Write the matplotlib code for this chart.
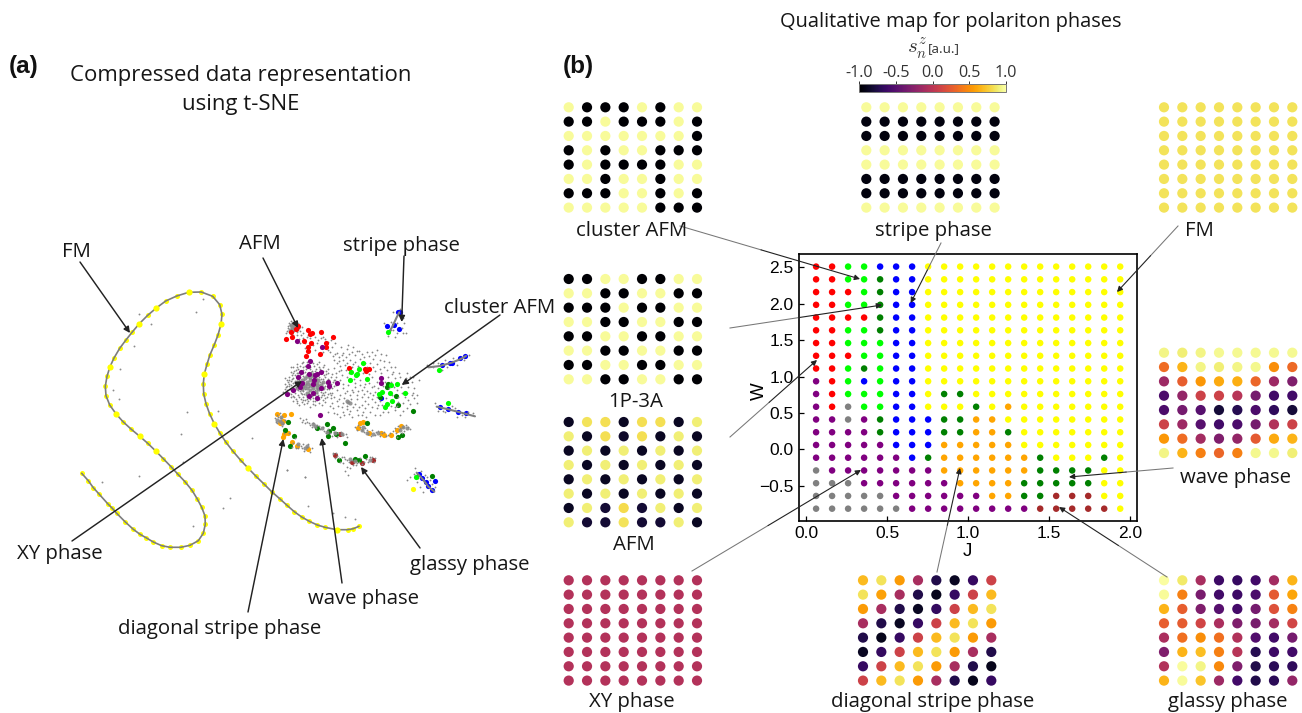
import numpy as np
import matplotlib
matplotlib.use('Agg')
import matplotlib.pyplot as plt
from matplotlib.cm import ScalarMappable
from matplotlib.colors import Normalize

plt.rcParams['font.family'] = ['Open Sans', 'DejaVu Sans']
plt.rcParams['mathtext.fontset'] = 'cm'

W_PX, H_PX = 1302, 713
TXT = '#161616'

# ------------------------- phase diagram (panel b) -------------------------
phase_rows = [
    'RRLLBBBYYYYYYYYYYYYY',
    'RRLLGBBYYYYYYYYYYYYY',
    'RRRLGBBYYYYYYYYYYYYY',
    'RRLLGBBYYYYYYYYYYYYY',
    'RRRRGBBYYYYYYYYYYYYY',
    'RRLLGBBYYYYYYYYYYYYY',
    'RRLLLBBYYYYYYYYYYYYY',
    'RRRLLBBYYYYYYYYYYYYY',
    'RRLGLBBYYYYYYYYYYYYY',
    'PRLBLBBYYYYYYYYYYYYY',
    'PRLLLBBYGGYYYYYYYYYY',
    'PRALLBBYYYGYOYYYYYYY',
    'PPAPGBBBGGOOYYYYYYYY',
    'PPPPGBBBGGOOGYYYYYYY',
    'PPPPPBBBOOOOOYYYYYYY',
    'PPPPPPBGOOOOOOGYYYGY',
    'APPPPPPPOOOOOOGGGGYY',
    'AAAPPPPPPOOOOGGGGGYY',
    'AAAAAPPPPPPOOGGNNNYY',
    'AAAAAAPPPPPPPPNNNNNY',
]
phase_colors = {'R': '#ff0000', 'L': '#00ff00', 'B': '#0000ff', 'G': '#008000',
                'Y': '#ffff00', 'P': '#800080', 'A': '#808080', 'O': '#ffa500',
                'N': '#a52a2a'}
J_first, J_last, W_first, W_last = 0.0625, 1.9375, 2.51, -0.815
map_xticks = [0.0, 0.5, 1.0, 1.5, 2.0]
map_yticks = [-0.5, 0.0, 0.5, 1.0, 1.5, 2.0, 2.5]

# ------------------------- 8x8 spin lattices -------------------------------
P_, B_, D_ = 0.97, -1.0, -0.88
S_ = -0.95
cluster_afm = [[P_, B_, B_, B_, P_, B_, P_, P_],
               [B_, B_, P_, B_, B_, B_, P_, B_],
               [P_, P_, P_, P_, P_, P_, P_, B_],
               [B_, P_, B_, P_, P_, B_, B_, B_],
               [B_, P_, B_, B_, B_, B_, P_, P_],
               [P_, P_, B_, P_, P_, B_, P_, P_],
               [B_, B_, B_, P_, P_, B_, P_, B_],
               [P_, P_, P_, P_, P_, B_, B_, B_]]
p1a3 = [[B_, B_, P_, P_, B_, B_, P_, P_],
        [P_, P_, B_, B_, P_, P_, B_, B_],
        [B_, B_, B_, P_, B_, B_, P_, P_],
        [P_, P_, B_, B_, P_, P_, B_, B_],
        [B_, B_, P_, P_, B_, B_, P_, P_],
        [P_, P_, B_, B_, P_, P_, B_, B_],
        [B_, B_, P_, P_, B_, B_, P_, P_],
        [P_, P_, B_, B_, P_, P_, B_, B_]]
afm = [[D_, .85, .83, D_, .83, .83, D_, .90],
       [.90, D_, .83, -.85, .83, D_, .90, D_],
       [D_, .90, D_, .90, D_, .90, D_, .90],
       [.90, D_, .90, D_, .90, D_, .90, D_],
       [D_, .90, D_, .90, D_, .90, D_, .90],
       [.90, D_, .90, D_, .90, D_, .90, D_],
       [D_, .90, -.82, .82, -.82, .90, D_, .90],
       [.90, -.82, -.82, .85, -.82, -.82, .90, D_]]
stripe = [[P_] * 8, [S_] * 8, [S_] * 8, [P_] * 8, [P_] * 8, [S_] * 8, [S_] * 8, [P_] * 8]
fm = [[.85] * 8 for _ in range(8)]
xy = [[-.04] * 8 for _ in range(8)]
wave = [[.93, .90, .93, .96, .96, .96, .96, .96],
        [.35, .66, .93, .90, .93, .95, .50, .33],
        [-.15, .28, .54, .62, .64, .32, -.15, -.30],
        [-.55, -.20, .10, .10, -.02, -.35, -.60, -.60],
        [-.55, -.35, -.50, -.80, -.72, -.55, -.68, -.80],
        [.10, -.15, -.50, -.60, -.55, -.35, -.05, .10],
        [.54, .35, -.12, -.30, -.20, .25, .62, .66],
        [.93, .66, .44, .32, .44, .95, .95, .90]]
diagonal = [[.68, .85, .56, -.10, -.75, -.88, -.65, .10],
            [.85, .58, -.10, -.75, -.90, -.65, .10, .68],
            [.56, -.10, -.75, -.88, -.66, .10, .68, .85],
            [-.10, -.75, -.88, -.65, .10, .68, .85, .56],
            [-.75, -.90, -.65, .10, .68, .85, .56, -.10],
            [-.88, -.66, .10, .68, .85, .56, -.10, -.75],
            [-.65, .10, .68, .85, .56, -.10, -.75, -.90],
            [.10, .68, .85, .56, -.10, -.75, -.90, -.65]]
glassy = [[.99, .88, -.10, -.62, -.65, -.60, -.12, .66],
          [.97, .44, -.33, -.60, -.62, -.55, .25, .60],
          [.66, .28, -.30, -.50, -.58, -.35, .20, .45],
          [.28, .26, .12, -.08, -.30, -.33, -.12, .12],
          [-.08, .36, .50, .36, -.05, -.52, -.60, -.35],
          [-.30, .66, .70, .44, -.02, -.72, -.62, -.60],
          [-.05, .98, .93, .48, -.30, -.75, -.70, -.68],
          [.66, .97, .72, -.15, -.60, -.75, -.70, -.20]]
lattices = [(cluster_afm, 568.7, 107.3), (p1a3, 568.7, 279.0), (afm, 568.7, 422.0),
            (stripe, 866.3, 107.3), (fm, 1164.0, 107.3), (wave, 1164.0, 352.7),
            (xy, 568.7, 580.3), (diagonal, 863.0, 580.3), (glassy, 1164.0, 580.3)]

# ------------------------- t-SNE curve (panel a), image units ---------------
curve = [(81.7, 473.3), (88.3, 480.7), (93.3, 487.7), (99.3, 494.3), (107.7, 503.7), (112.3, 508.3),
         (116.7, 513.3), (125, 521.7), (133.3, 529.3), (140, 534.3), (146, 537.7), (153.3, 542),
         (161.7, 545.7), (170, 547.3), (180.7, 547.3), (190, 545.3), (198.3, 540.7), (203.3, 533.3),
         (205.3, 524.3), (205, 516), (201.7, 507.3), (197.3, 499), (192, 490.3), (185, 481.7),
         (177.7, 474), (171, 466.7), (163.3, 458.7), (156, 451.3), (147.7, 443.3), (139.7, 436.3),
         (131.3, 429.3), (123, 421.7), (116, 413.8), (109.7, 405), (106, 395.7), (105.3, 386.3),
         (107, 376.3), (110, 366.7), (114, 358), (119.7, 348.3), (125.7, 340.3), (132.3, 332),
         (139.3, 323.7), (147.7, 315.3), (156.3, 308), (165.7, 301), (176.7, 296), (188.7, 292.3),
         (201.3, 292), (212.7, 296.3), (219.7, 304.7), (222, 314.3), (221, 324.3), (218, 335),
         (214.3, 344.7), (210, 354.7), (207, 364.3), (204.3, 374), (203.3, 383.7), (203.7, 393.7),
         (206, 403.7), (209.5, 413.5), (214.3, 423.7), (220, 433.3), (226, 442.3), (233, 451.3),
         (240.7, 460.3), (248.3, 468.3), (256, 476.3), (264, 484), (271.7, 491.7), (279.7, 498.7),
         (287, 505.3), (294.3, 511.7), (301.7, 517), (309.3, 521.3), (317.3, 525), (325, 527.3),
         (336.7, 529.7), (347.7, 529.7), (353.3, 528.7), (359, 526.3)]
curve_big = [(110, 366.7), (139.3, 323.7), (156.3, 308), (188.7, 292.3), (221, 324.3), (204.3, 374),
             (116, 413.8), (139.7, 436.3), (156, 451.3), (214.3, 423.7), (248.3, 468.3),
             (336.7, 529.7)]
stray_gray = [(138.7, 314.3), (150.7, 324), (133.7, 345.7), (120, 369), (113.3, 390), (119.3, 398.7),
              (196.3, 312), (202.7, 299.3), (187.3, 412), (180.7, 434.3), (218.3, 410.7), (252.3, 437.7),
              (139, 475.7), (102, 482), (222.7, 508), (230, 497.7), (192.7, 526), (286.7, 470),
              (305, 477.3), (308.3, 506), (345, 517.3), (355, 518.7), (333.3, 513.3), (182.7, 461.7)]

# ------------------------- clusters, in units of 1/3 image px from (260,280) -
red_pts = [(113, 138), (143, 150), (183, 156), (93, 155), (108, 148), (150, 163), (157, 160), (77, 177),
           (97, 172), (131, 183), (153, 188), (219, 171), (143, 200), (197, 190), (197, 202), (143, 213),
           (137, 228), (180, 223), (266, 263), (315, 267), (327, 268), (317, 274)]
purple_pts = [(111, 182), (185, 200), (150, 242), (143, 258), (123, 276), (115, 290), (146, 283),
              (165, 286), (183, 275), (170, 283), (162, 300), (158, 311), (204, 306), (207, 319),
              (230, 310), (125, 308), (100, 330), (120, 322), (82, 341), (146, 348), (160, 338),
              (170, 355), (183, 323), (180, 405), (362, 295), (362, 308)]
lime_pts = [(308, 249), (297, 267), (274, 276), (292, 282), (288, 286), (270, 301), (320, 298), (393, 316),
            (410, 313), (367, 335), (358, 342), (390, 338), (435, 340), (397, 364), (380, 372),
            (374, 381), (536, 270), (565, 370), (383, 155), (467, 591)]
green_pts = [(385, 311), (380, 322), (409, 347), (414, 374), (360, 352), (459, 394), (84, 425), (75, 450),
             (101, 468), (91, 497), (171, 444), (202, 433), (219, 445), (207, 452), (205, 467), (228, 463),
             (255, 490), (321, 430), (414, 470), (427, 465), (285, 537), (238, 541), (314, 528),
             (298, 540), (515, 589)]
blue_pts = [(415, 96), (420, 97), (382, 138), (401, 135), (418, 148), (363, 354), (545, 256), (570, 248),
            (575, 248), (600, 233), (614, 229), (539, 381), (563, 387), (595, 395), (619, 400), (478, 582),
            (487, 593), (524, 604), (498, 605), (503, 617), (516, 630)]
orange_pts = [(50, 403), (73, 405), (92, 402), (60, 428), (68, 424), (72, 463), (68, 470), (85, 460),
              (96, 485), (112, 497), (143, 508), (308, 426), (294, 445), (327, 458), (364, 458), (372, 464),
              (393, 465), (411, 450), (422, 437), (300, 430)]
brown_pts = [(225, 525), (275, 546), (307, 548), (338, 540), (240, 462)]
yellow_pts = [(459, 626)]

streaks = [[(385, 160), (397, 140), (410, 112), (418, 97)],
           [(505, 262), (540, 258), (575, 248), (600, 238), (618, 228)],
           [(530, 380), (565, 388), (600, 397), (645, 409)],
           [(470, 578), (490, 600), (505, 620), (523, 635)]]

gray_core = [(150, 315), (140, 305), (160, 305), (130, 315), (170, 315), (140, 325), (160, 325), (150, 300),
             (150, 330), (125, 300), (175, 300), (125, 328), (175, 328), (135, 295), (165, 295), (118, 315),
             (182, 315), (140, 338), (160, 338), (150, 290), (145, 312), (155, 318), (135, 318), (165, 312),
             (128, 308), (172, 308), (128, 322), (172, 322), (110, 305), (190, 305), (112, 325), (188, 325),
             (145, 345), (155, 285), (142, 288), (168, 335),
             (100, 135), (95, 142), (106, 140), (90, 150), (110, 148), (100, 150), (105, 128), (92, 135),
             (265, 365), (270, 368), (260, 362),
             (60, 422), (52, 420), (65, 430), (245, 462), (320, 458), (135, 505), (113, 493), (140, 498),
             (285, 543), (330, 540), (310, 442), (305, 450), (440, 445), (420, 450), (430, 440), (158, 432),
             (185, 445), (200, 455), (165, 437), (225, 458), (64, 412), (340, 462), (355, 458), (270, 538)]
gray_dots = [
    # XY blob
    (78, 320), (84, 305), (88, 290), (92, 275), (100, 262), (112, 252), (125, 250), (140, 245), (158, 250),
    (172, 253), (188, 262), (198, 272), (212, 290), (218, 305), (215, 325), (210, 338), (202, 350), (190, 360),
    (178, 368), (160, 372), (142, 370), (125, 366), (108, 358), (98, 348), (88, 338), (74, 312), (82, 330),
    (96, 298), (104, 285), (115, 268), (130, 262), (150, 260), (168, 266), (182, 278), (195, 292), (205, 315),
    (196, 335), (185, 345), (170, 352), (150, 358), (130, 352), (115, 345), (102, 330), (92, 316), (100, 310),
    (110, 295), (120, 285), (135, 275), (155, 272), (172, 285), (188, 298), (195, 318), (182, 336), (165, 345),
    (140, 350), (122, 338), (108, 322), (104, 302), (115, 278), (128, 288), (145, 280), (160, 280), (178, 292),
    (186, 308), (188, 325), (172, 338), (155, 347), (132, 342), (115, 330), (110, 312), (118, 300), (128, 270),
    (205, 280), (222, 318), (228, 292), (92, 262), (75, 295), (70, 335), (118, 375), (150, 382), (186, 375),
    (212, 355), (103, 272), (94, 330), (86, 318), (125, 342), (96, 285), (208, 300), (200, 302), (176, 358),
    (145, 362), (135, 258), (162, 258), (180, 268), (120, 258), (108, 270), (192, 345), (200, 326), (165, 362),
    (81, 300), (86, 312), (90, 326), (94, 342), (102, 352), (112, 362), (122, 356), (135, 360), (150, 350),
    (158, 364), (170, 360), (182, 352), (194, 354), (204, 342), (208, 328), (212, 312), (204, 296), (198, 282),
    (190, 272), (176, 260), (164, 272), (150, 268), (138, 266), (124, 276), (110, 280), (100, 294), (92, 304),
    (98, 322), (106, 340), (118, 352), (128, 360), (142, 356), (160, 354), (174, 346), (188, 338), (198, 310),
    (192, 284), (178, 276), (168, 278), (152, 276), (140, 282), (130, 280), (120, 292), (112, 302), (106, 316),
    (116, 322), (120, 334), (130, 334), (138, 344), (148, 340), (164, 330), (178, 330), (184, 318), (180, 306),
    (182, 296), (170, 296), (160, 292), (146, 294), (132, 300), (122, 310), (134, 326), (146, 332), (158, 332),
    (170, 326), (176, 316), (166, 302), (152, 298), (138, 312), (148, 322), (158, 312), (88, 300), (82, 318),
    (76, 326), (84, 342), (92, 352), (100, 362), (110, 370), (132, 372), (166, 376), (196, 366), (214, 344),
    (222, 300), (216, 282), (204, 268), (192, 254), (178, 246), (150, 240), (130, 246), (110, 260), (100, 278),
    # AFM blob and neighbours
    (90, 135), (100, 132), (105, 132), (110, 130), (115, 135), (85, 145), (92, 148), (98, 145), (104, 143),
    (118, 145), (88, 155), (96, 158), (103, 152), (110, 155), (120, 152), (125, 140), (100, 165), (112, 165),
    (130, 160), (140, 170), (128, 175), (150, 175), (165, 172), (175, 180), (190, 170), (205, 185), (160, 195),
    (120, 190), (135, 205), (212, 180), (225, 190), (100, 125), (108, 122), (95, 128), (84, 138), (78, 160),
    (86, 130), (93, 122), (112, 138), (115, 128), (82, 152), (122, 165), (145, 165), (155, 185), (170, 190),
    (182, 175), (195, 178), (118, 178), (135, 190), (148, 195), (165, 210), (190, 215), (205, 210), (215, 200),
    # central sparse region
    (210, 215), (225, 222), (238, 230), (250, 218), (262, 208), (275, 215), (290, 212), (305, 222), (322, 216),
    (335, 215), (352, 210), (265, 195), (242, 200), (280, 200), (300, 236), (340, 236), (360, 240), (378, 225),
    (392, 260), (372, 262), (350, 252), (330, 250), (250, 240), (232, 250), (222, 265), (236, 272), (255, 255),
    (270, 240), (285, 245), (245, 285), (262, 290), (282, 298), (300, 300), (315, 312), (335, 290), (345, 272),
    (350, 305), (335, 320), (322, 332), (305, 330), (285, 322), (265, 315), (250, 312), (232, 330), (222, 350),
    (240, 345), (255, 340), (270, 345), (290, 345), (305, 352), (325, 350), (340, 345), (345, 365), (325, 372),
    (305, 375), (285, 372), (265, 365), (250, 368), (235, 378), (220, 385), (205, 395), (230, 402), (250, 395),
    (270, 392), (290, 390), (310, 395), (330, 395), (350, 385), (370, 395), (385, 395), (405, 390), (420, 405),
    (440, 385), (470, 370), (462, 355), (445, 360), (430, 370), (415, 350), (395, 345), (378, 355), (370, 318),
    (405, 295), (420, 290), (432, 305), (445, 320), (462, 325), (478, 300), (450, 290), (400, 275), (385, 290),
    (362, 280), (345, 335), (355, 325), (410, 330), (422, 322), (440, 338), (455, 345), (415, 365), (405, 380),
    (365, 375), (240, 300), (295, 275), (315, 250), (275, 330), (260, 378), (295, 405), (318, 410), (275, 412),
    (345, 405), (252, 405), (215, 368), (228, 315), (276, 262), (258, 270), (240, 258), (310, 280), (328, 282),
    (218, 228), (232, 218), (245, 226), (258, 232), (268, 222), (285, 225), (298, 214), (312, 232), (328, 228),
    (345, 224), (362, 222), (222, 240), (238, 244), (262, 248), (278, 252), (295, 258), (322, 262), (338, 262),
    (360, 266), (380, 270), (395, 282), (228, 280), (242, 270), (268, 278), (285, 310), (300, 315), (312, 322),
    (328, 308), (342, 318), (248, 325), (260, 332), (280, 335), (295, 332), (312, 342), (330, 340), (238, 358),
    (252, 355), (272, 358), (292, 358), (315, 362), (335, 358), (352, 350), (360, 362), (245, 382), (262, 388),
    (278, 380), (298, 382), (315, 385), (335, 382), (355, 375), (375, 380), (392, 378), (412, 378), (430, 392),
    (450, 372), (458, 338), (472, 345), (435, 352), (425, 340), (402, 322), (388, 325), (375, 305), (392, 305),
    (415, 308), (438, 295), (455, 305), (440, 280), (418, 278), (405, 262), (388, 245), (372, 242), (460, 290),
    (225, 300), (232, 362), (215, 340), (210, 378), (222, 400), (240, 410), (268, 402), (305, 405), (360, 405),
    # wave band (left)
    (120, 415), (130, 420), (142, 425), (150, 435), (160, 428), (172, 436), (180, 448), (190, 440), (198, 458),
    (210, 460), (222, 455), (235, 458), (250, 465), (262, 470), (125, 425), (135, 428), (148, 428), (155, 440),
    (168, 445), (178, 438), (192, 452), (205, 448), (215, 468), (230, 470), (242, 455), (258, 462), (138, 418),
    # right band
    (285, 442), (295, 435), (305, 450), (315, 445), (325, 462), (335, 450), (345, 465), (355, 452), (365, 460),
    (378, 468), (390, 458), (405, 445), (415, 438), (428, 440), (445, 440), (450, 448), (432, 452), (408, 460),
    (290, 450), (300, 440), (312, 455), (322, 450), (332, 468), (348, 455), (360, 468), (372, 455), (385, 465),
    (398, 452), (420, 445), (438, 436), (425, 458), (412, 470),
    # orange clusters
    (45, 415), (52, 430), (65, 438), (75, 420), (50, 405), (60, 400), (72, 460), (100, 490), (108, 503),
    (122, 497), (130, 492), (140, 500), (150, 515), (155, 505), (95, 500), (88, 460), (105, 475), (48, 425),
    (55, 412), (70, 432), (62, 415), (115, 505), (125, 505), (132, 512), (145, 492),
    # glassy band
    (220, 518), (232, 528), (245, 530), (255, 538), (268, 545), (278, 555), (292, 548), (305, 552), (318, 538),
    (330, 532), (345, 535), (250, 548), (262, 560), (240, 545), (225, 533), (300, 535), (218, 522), (255, 572),
    (228, 520), (238, 535), (252, 530), (262, 540), (275, 540), (288, 555), (298, 545), (312, 545), (325, 545),
    (335, 530), (342, 545), (270, 565),
    # near streaks
    (372, 130), (392, 150), (410, 160), (430, 158), (438, 160), (405, 172), (385, 168), (430, 115), (432, 130),
    (400, 95), (420, 88), (500, 255), (520, 262), (555, 240), (545, 270), (590, 255), (612, 240), (628, 225),
    (526, 368), (535, 392), (555, 395), (575, 378), (590, 410), (615, 410), (640, 400), (465, 565), (450, 590),
    (440, 600), (495, 585), (510, 600), (525, 620), (480, 620), (470, 605), (490, 635), (135, 590), (80, 570),
    (265, 585), (392, 125), (412, 128), (400, 150), (425, 145), (520, 250), (535, 248), (560, 262), (580, 235),
    (548, 392), (585, 385), (605, 405), (625, 395), (482, 572), (500, 592), (515, 612), (462, 582), (475, 595),
]

# ------------------------- labels and arrows --------------------------------
a_labels = [('FM', 76, 250), ('AFM', 260, 242), ('stripe phase', 401, 244), ('cluster AFM', 500, 306),
            ('XY phase', 60, 552), ('diagonal stripe phase', 220, 627), ('wave phase', 363, 597),
            ('glassy phase', 470, 563)]
b_labels = [('cluster AFM', 632, 229), ('stripe phase', 933, 229), ('FM', 1199, 229), ('1P-3A', 636, 400),
            ('AFM', 634, 543), ('XY phase', 632, 700), ('diagonal stripe phase', 933, 700),
            ('glassy phase', 1228, 700), ('wave phase', 1236, 476)]
a_arrows = [((80, 262), (130, 333)), ((263, 258), (298, 328)), ((404, 256), (401.7, 322)),
            ((500, 315), (401.7, 385)), ((72, 541), (302, 381)), ((248, 612), (283.3, 439)),
            ((342, 583), (321.7, 438)), ((420, 548), (361, 467))]
b_arrows = [((680, 226), (860, 279)), ((730, 328), (882, 305)), ((730, 437), (817, 360)),
            ((692, 571), (861, 470)), ((941, 243), (910.7, 303)), ((1178, 226), (1117, 292)),
            ((1173, 468), (1069, 477)), ((937, 572), (960, 468)), ((1167, 577), (1059, 507))]
cbar_ticks = [-1.0, -0.5, 0.0, 0.5, 1.0]


def px_axes(left, top, right, bottom, **kw):
    return fig.add_axes([left / W_PX, 1 - bottom / H_PX, (right - left) / W_PX, (bottom - top) / H_PX], **kw)


def zx(pts):
    return [260 + p[0] / 3 for p in pts]


def zy(pts):
    return [280 + p[1] / 3 for p in pts]


fig = plt.figure(figsize=(W_PX / 100, H_PX / 100), dpi=100, facecolor='white')

# full-figure canvas in image units
base = fig.add_axes([0, 0, 1, 1])
base.set_xlim(0, W_PX)
base.set_ylim(H_PX, 0)
base.axis('off')

# panel (a)
cx, cy = [p[0] for p in curve], [p[1] for p in curve]
base.scatter(cx, cy, s=13, color='#ffff00', linewidths=0, zorder=2)
base.plot(cx, cy, color='#7d7d7d', lw=1.2, zorder=3, solid_capstyle='round')
base.scatter([p[0] for p in curve_big], [p[1] for p in curve_big], s=20, color='#ffff00', linewidths=0, zorder=4)
base.scatter([p[0] for p in stray_gray], [p[1] for p in stray_gray], s=1.8, color='#8a8a8a', linewidths=0, zorder=3)

for pts, col in [(blue_pts, '#0000ff'), (orange_pts, '#ffa500'), (brown_pts, '#a52a2a'),
                 (green_pts, '#008000'), (yellow_pts, '#ffff00')]:
    base.scatter(zx(pts), zy(pts), s=14, color=col, linewidths=0, zorder=3)
for st in streaks:
    base.plot(zx(st), zy(st), color='#808080', lw=1.5, zorder=4, solid_capstyle='round')
base.scatter(zx(gray_core), zy(gray_core), s=9, color='#8c8c8c', linewidths=0, zorder=4, alpha=0.9)
base.scatter(zx(gray_dots), zy(gray_dots), s=1.7, color='#868686', linewidths=0, zorder=4)
for pts, col in [(red_pts, '#ff0000'), (purple_pts, '#800080'), (lime_pts, '#00ff00')]:
    base.scatter(zx(pts), zy(pts), s=14, color=col, linewidths=0, zorder=5)

# panel (b) phase map
ax = px_axes(799.3, 254, 1137, 520.7)
J_vals = np.linspace(J_first, J_last, len(phase_rows[0]))
W_vals = np.linspace(W_first, W_last, len(phase_rows))
for w, row in zip(W_vals, phase_rows):
    ax.scatter(J_vals, [w] * len(row), c=[phase_colors[c] for c in row], s=22, linewidths=0, zorder=3)
ax.set_xlim(-0.041, 2.041)
ax.set_ylim(-0.98, 2.683)
ax.set_xticks(map_xticks)
ax.set_yticks(map_yticks)
ax.tick_params(direction='in', length=3.5, width=0.9, labelsize=12.5, pad=4, colors='black')
for lab in ax.get_xticklabels() + ax.get_yticklabels():
    lab.set_fontfamily('Liberation Sans')
for sp in ax.spines.values():
    sp.set_linewidth(1.2)

# lattices
norm = Normalize(-1, 1)
for grid, x0, y0 in lattices:
    lat = px_axes(x0, y0, x0 + 7 * 18.33, y0 + 7 * 14.33)
    arr = np.array(grid)
    col_i, row_i = np.meshgrid(np.arange(8), np.arange(8))
    lat.scatter(col_i.ravel(), row_i.ravel(), c=arr.ravel(), cmap='inferno', norm=norm, s=54,
                linewidths=0, clip_on=False)
    lat.set_xlim(0, 7)
    lat.set_ylim(7, 0)
    lat.axis('off')

# colorbar
cax = px_axes(859.3, 84, 1005.7, 92.3)
cb = fig.colorbar(ScalarMappable(norm=norm, cmap='inferno'), cax=cax, orientation='horizontal')
cb.set_ticks(cbar_ticks, labels=['-1.0', '-0.5', '0.0', '0.5', '1.0'])
cax.xaxis.set_ticks_position('top')
cax.tick_params(length=2.5, width=0.7, labelsize=11.6, pad=0, colors='#333333')
cb.outline.set_linewidth(0.7)
cb.outline.set_edgecolor('#777777')

# overlay: annotations and text
top = fig.add_axes([0, 0, 1, 1], zorder=10)
top.set_xlim(0, W_PX)
top.set_ylim(H_PX, 0)
top.axis('off')
top.patch.set_alpha(0)

for start, end in a_arrows:
    top.annotate('', xy=end, xytext=start,
                 arrowprops=dict(arrowstyle='-|>', color='#222222', lw=1.05, shrinkA=0, shrinkB=0, mutation_scale=9))
for start, end in b_arrows:
    mid = (start[0] + 0.45 * (end[0] - start[0]), start[1] + 0.45 * (end[1] - start[1]))
    top.plot([start[0], mid[0]], [start[1], mid[1]], color='#777777', lw=0.75)
    top.annotate('', xy=end, xytext=mid,
                 arrowprops=dict(arrowstyle='-|>', color='#222222', lw=0.8, shrinkA=0, shrinkB=0, mutation_scale=8))

LABEL_FS = 14.7
for txt, x, y in a_labels + b_labels:
    top.text(x, y + 2, txt, ha='center', va='center', fontsize=LABEL_FS, color=TXT)
top.text(241, 90, 'Compressed data representation\nusing t-SNE', ha='center', va='center',
         fontsize=15.9, color=TXT, linespacing=1.44)
top.text(951, 22, 'Qualitative map for polariton phases', ha='center', va='center', fontsize=14.4, color=TXT)
top.text(927, 49, r'$s_n^z$', ha='right', va='center', fontsize=15, color='#333333')
top.text(928, 49, '[a.u.]', ha='left', va='center', fontsize=9.7, color='#333333')
top.text(24, 66, '(a)', ha='center', va='center', fontsize=17.5, fontweight='bold', color='#111111',
         family='Liberation Sans')
top.text(578, 66, '(b)', ha='center', va='center', fontsize=17.5, fontweight='bold', color='#111111',
         family='Liberation Sans')
top.text(967, 551, 'J', ha='center', va='center', fontsize=13.5, color='black', family='Liberation Sans')
top.text(759, 391, 'W', ha='center', va='center', rotation=90, fontsize=13.5, color='black', family='Liberation Sans')

fig.savefig('out.png', dpi=100, facecolor='white')
